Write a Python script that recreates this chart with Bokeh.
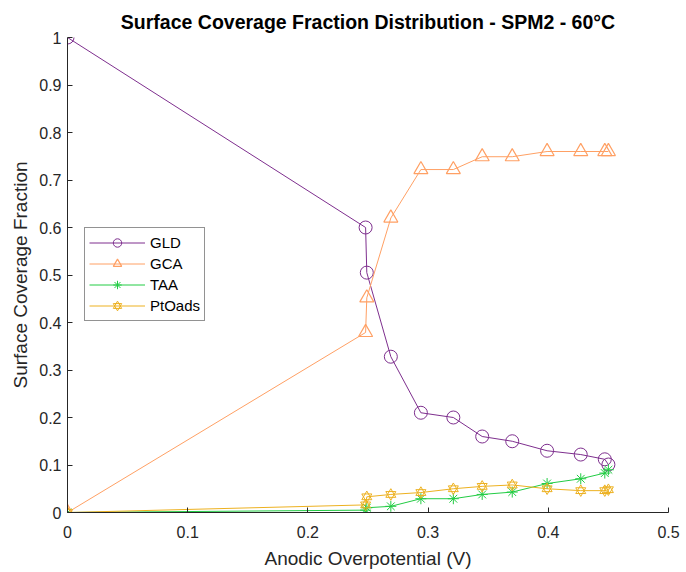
from bokeh.plotting import figure
from bokeh.models import FixedTicker, Legend, LegendItem, Range1d
from bokeh.embed import file_html
from bokeh.resources import INLINE

# ---- data ----
potential = [0, 0.248, 0.249, 0.269, 0.294, 0.321, 0.345, 0.370, 0.399, 0.427, 0.447, 0.450]
gld = [1.0, 0.600, 0.505, 0.328, 0.210, 0.200, 0.160, 0.150, 0.130, 0.122, 0.112, 0.101]
gca = [0.0, 0.379, 0.452, 0.620, 0.722, 0.722, 0.749, 0.749, 0.760, 0.760, 0.760, 0.760]
taa = [0.0, 0.005, 0.010, 0.013, 0.029, 0.029, 0.038, 0.043, 0.061, 0.071, 0.083, 0.090]
ptoads = [0.0, 0.016, 0.033, 0.038, 0.042, 0.050, 0.055, 0.058, 0.050, 0.046, 0.046, 0.048]

x_ticks = [0, 0.1, 0.2, 0.3, 0.4, 0.5]
x_tick_labels = ["0", "0.1", "0.2", "0.3", "0.4", "0.5"]
y_ticks = [0, 0.1, 0.2, 0.3, 0.4, 0.5, 0.6, 0.7, 0.8, 0.9, 1.0]
y_tick_labels = ["0", "0.1", "0.2", "0.3", "0.4", "0.5", "0.6", "0.7", "0.8", "0.9", "1"]

title = "Surface Coverage Fraction Distribution - SPM2 - 60\u00b0C"
x_label = "Anodic Overpotential (V)"
y_label = "Surface Coverage Fraction"

C_GLD = "#7E2F8E"
C_GCA = "#FFA064"
C_TAA = "#22CC44"
C_PT = "#EDB120"
FONT = "Liberation Sans"
AX = "#262626"

p = figure(
    frame_width=601, frame_height=475,
    min_border_left=67, min_border_right=18, min_border_top=37, min_border_bottom=60,
    x_range=Range1d(0, 0.5), y_range=Range1d(0, 1),
    output_backend="svg", toolbar_location=None,
    title=title,
)
p.outline_line_color = None
p.background_fill_color = "white"
p.border_fill_color = "white"
p.xgrid.visible = False
p.ygrid.visible = False

p.title.text_font = FONT
p.title.text_font_size = "19.5px"
p.title.text_font_style = "bold"
p.title.text_color = "black"
p.title.align = "center"
p.title.standoff = 10

for ax, ticks, labels in ((p.xaxis[0], x_ticks, x_tick_labels), (p.yaxis[0], y_ticks, y_tick_labels)):
    ax.ticker = FixedTicker(ticks=ticks)
    ax.major_label_overrides = {t: l for t, l in zip(ticks, labels)}
    ax.major_tick_in = 5
    ax.major_tick_out = 0
    ax.minor_tick_line_color = None
    ax.axis_line_color = AX
    ax.major_tick_line_color = AX
    ax.major_label_text_font = FONT
    ax.major_label_text_font_size = "16px"
    ax.major_label_text_color = AX
    ax.axis_label_text_font = FONT
    ax.axis_label_text_font_size = "19px"
    ax.axis_label_text_font_style = "normal"
    ax.axis_label_text_color = AX

p.xaxis.axis_label = x_label
p.yaxis.axis_label = y_label
p.xaxis.major_label_standoff = 13
p.yaxis.major_label_standoff = 6
p.xaxis.axis_label_standoff = 7
p.yaxis.axis_label_standoff = 5

# GLD
l1 = p.line(potential, gld, line_color=C_GLD, line_width=1)
m1 = p.scatter(potential, gld, marker="circle", size=13, fill_color=None, line_color=C_GLD, line_width=1)
# GCA
l2 = p.line(potential, gca, line_color=C_GCA, line_width=1)
m2 = p.scatter(potential, gca, marker="triangle", size=14, fill_color=None, line_color=C_GCA, line_width=1.2)
# TAA
l3 = p.line(potential, taa, line_color=C_TAA, line_width=1)
m3 = p.scatter(potential, taa, marker="asterisk", size=11, line_color=C_TAA, line_width=1)
# PtOads (hexagram made of two triangles)
l4 = p.line(potential, ptoads, line_color=C_PT, line_width=1)
m4a = p.scatter(potential, ptoads, marker="triangle", size=10, fill_color=None, line_color=C_PT, line_width=1)
m4b = p.scatter(potential, ptoads, marker="inverted_triangle", size=10, fill_color=None, line_color=C_PT, line_width=1)

legend = Legend(
    items=[
        LegendItem(label="GLD", renderers=[l1, m1]),
        LegendItem(label="GCA", renderers=[l2, m2]),
        LegendItem(label="TAA", renderers=[l3, m3]),
        LegendItem(label="PtOads", renderers=[l4, m4a, m4b]),
    ],
    location=(17, 191),
    label_text_font=FONT,
    label_text_font_size="15px",
    label_text_color="black",
    glyph_width=56,
    glyph_height=21,
    label_height=21,
    label_standoff=5,
    spacing=0,
    padding=4,
    margin=0,
    border_line_color=AX,
    border_line_width=1,
    background_fill_color="white",
    background_fill_alpha=1,
)
p.add_layout(legend, "center")

open("out.html", "w").write(file_html(p, INLINE))
